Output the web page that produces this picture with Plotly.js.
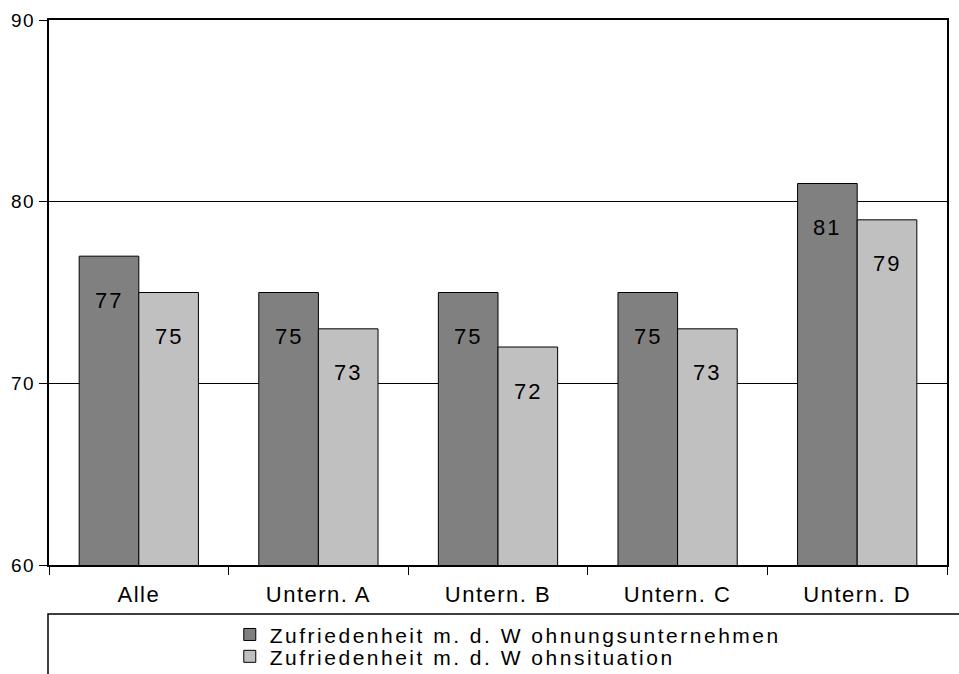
<!DOCTYPE html>
<html>
<head>
<meta charset="utf-8">
<script src="https://cdn.plot.ly/plotly-3.0.1.min.js"></script>
<style>
html, body { margin: 0; padding: 0; background: #fff; }
#chart { width: 959px; height: 674px; }
.xtick text { letter-spacing: 1.5px; }
.ytick text { letter-spacing: 1.5px; }
.legendtext, .legend text, .legend2 text, g[class^="legend"] text { letter-spacing: 2.5px; }
.annotation-text { letter-spacing: 2px; }
</style>
</head>
<body>
<div id="chart"></div>
<script>
const categories = ["Alle", "Untern. A", "Untern. B", "Untern. C", "Untern. D"];
const seriesNames = ["Zufriedenheit m. d. W ohnungsunternehmen", "Zufriedenheit m. d. W ohnsituation"];
const unternehmenValues = [77, 75, 75, 75, 81];
const wohnsituationValues = [75, 73, 72, 73, 79];
const yTicks = [60, 70, 80, 90];

const W = 959, H = 674;
const margin = {l: 49, r: 12, t: 20, b: 109, autoexpand: false};
const plotW = W - margin.l - margin.r;
const plotH = H - margin.t - margin.b;
const bargap = 0.336;
const barPx = (1 - bargap) * plotW / categories.length / 2;

const fontFamily = "Liberation Sans, Arial, sans-serif";

const traces = [
  {
    type: "bar", name: seriesNames[0], x: categories, y: unternehmenValues,
    marker: {color: "#808080", line: {color: "#000", width: 1}},
    hoverinfo: "skip", legend: "legend"
  },
  {
    type: "bar", name: seriesNames[1], x: categories, y: wohnsituationValues,
    marker: {color: "#c0c0c0", line: {color: "#000", width: 1}},
    hoverinfo: "skip", legend: "legend2"
  }
];

const annotations = [];
[unternehmenValues, wohnsituationValues].forEach((vals, si) => {
  vals.forEach((v, i) => {
    annotations.push({
      x: categories[i], y: v, xref: "x", yref: "y",
      text: String(v), showarrow: false,
      xshift: (si === 0 ? -1 : 1) * barPx / 2,
      yshift: -44, yanchor: "middle", xanchor: "center",
      font: {family: fontFamily, size: 22, color: "#000"}
    });
  });
});

const legendFont = {family: fontFamily, size: 21, color: "#000"};
const layout = {
  width: W, height: H, margin: margin,
  paper_bgcolor: "#fff", plot_bgcolor: "#fff",
  font: {family: fontFamily, color: "#000"},
  barmode: "group", bargap: bargap, bargroupgap: 0,
  showlegend: true,
  legend: {
    orientation: "h", entrywidth: 620, entrywidthmode: "pixels",
    x: 0.2013, xanchor: "left", y: -0.0905, yanchor: "top",
    bgcolor: "rgba(0,0,0,0)", font: legendFont, itemclick: false
  },
  legend2: {
    orientation: "h", entrywidth: 620, entrywidthmode: "pixels",
    x: 0.2013, xanchor: "left", y: -0.1306, yanchor: "top",
    bgcolor: "rgba(0,0,0,0)", font: legendFont, itemclick: false
  },
  xaxis: {
    type: "category", showline: true, linecolor: "#000", linewidth: 2, mirror: true,
    ticks: "outside", tickson: "boundaries", ticklen: 8, tickcolor: "#000", tickwidth: 1,
    ticklabelstandoff: 9,
    showgrid: false, tickfont: {family: fontFamily, size: 22, color: "#000"},
    fixedrange: true
  },
  yaxis: {
    range: [60, 90], tickvals: yTicks, ticktext: yTicks.map(String),
    showline: true, linecolor: "#000", linewidth: 2, mirror: true,
    ticks: "outside", ticklen: 8, tickcolor: "#000", tickwidth: 1,
    showgrid: true, gridcolor: "#000", gridwidth: 1, zeroline: false,
    tickfont: {family: fontFamily, size: 19, color: "#000"},
    fixedrange: true
  },
  shapes: [{
    type: "rect", xref: "paper", yref: "paper",
    x0: -1 / plotW, x1: 1.2, y0: -49 / plotH, y1: -0.5,
    line: {color: "#000", width: 1.5}, fillcolor: "rgba(0,0,0,0)", layer: "below"
  }],
  annotations: annotations
};

Plotly.newPlot("chart", traces, layout, {displayModeBar: false, staticPlot: true});
</script>
</body>
</html>
